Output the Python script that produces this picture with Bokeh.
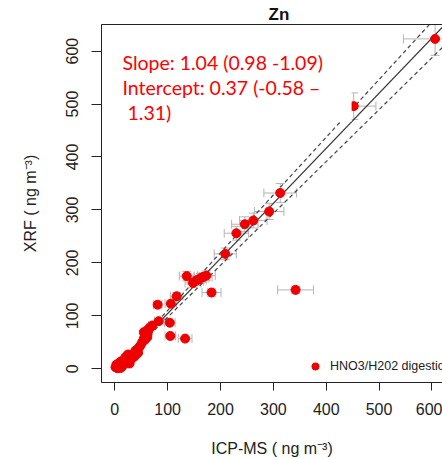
from bokeh.plotting import figure
from bokeh.models import (Range1d, FixedTicker, Whisker, TeeHead, ColumnDataSource,
                          Label, Legend, LegendItem, LinearAxis)
from bokeh.embed import file_html
from bokeh.resources import INLINE

# ICP-MS (x) vs XRF (y), ng m-3, with uncertainties
icp = [606, 452, 313, 292, 262, 246, 230, 209, 136, 148, 153, 157, 162, 167, 173,
       183, 342, 117, 81, 106, 83, 104, 105, 133,
       1.3, 7.6, 10.8, 17, 23.4, 20.2, 29.7, 32.9, 36, 39.2, 45.4, 48.6, 51.8, 54.9,
       58.1, 54.9, 61.3, 64.3, 67.5, 70.8, 61.3, 42.4, 26.5, 14, 3, 5, 9, 12, 28, 33,
       38, 44, 57, 62, 20, 25]
xrf = [623, 496, 332, 297, 280, 273, 256, 217, 175, 162, 166, 168, 171, 173, 176,
       144, 149, 137, 121, 123, 90, 87, 62, 57,
       3, 6.2, 1.5, 9.4, 12.5, 17, 18.9, 25.1, 28.3, 34.6, 39.7, 44, 50.2, 56.7,
       62.9, 69.1, 72.3, 75.5, 78.6, 81.8, 59.7, 31.4, 15.7, 4.3, 8, 1, 12, 14, 10, 20,
       24, 30, 55, 66, 22, 27]
icp_err = [60, 42, 31, 28, 26, 25, 23, 21, 14, 15, 15, 16, 16, 17, 17, 18, 34, 12, 8,
           11, 8, 10, 10, 13,
           0.5, 1, 1, 2, 2, 2, 3, 3, 4, 4, 5, 5, 5, 5, 6, 5, 6, 6, 7, 7,
           6, 4, 3, 1, 0.5, 0.5, 1, 1, 3, 3, 4, 4, 6, 6, 2, 3]
xrf_err = [31, 25, 18, 15, 14, 14, 13, 11, 9, 8, 8, 8, 9, 9, 9, 7, 7, 7, 6, 6, 5, 4,
           3, 3,
           0.5, 0.5, 0.5, 0.5, 1, 1, 1, 1, 1.5, 2, 2, 2, 2.5, 3, 3, 3.5, 3.5, 4, 4, 4,
           3, 1.5, 1, 0.5, 0.5, 0.5, 0.5, 1, 0.5, 1, 1, 1.5, 3, 3, 1, 1.5]

x_ticks = [0, 100, 200, 300, 400, 500, 600]
y_ticks = [0, 100, 200, 300, 400, 500, 600]

slope, intercept = 1.04, 0.37
slope_lo, intercept_lo = 0.98, -0.58
slope_hi, intercept_hi = 1.09, 1.31
fit_x = [0, 700]

series_label = "HNO3/H202 digestion"
title_text = "Zn"
stats_lines = ["Slope: 1.04 (0.98 -1.09)", "Intercept: 0.37 (-0.58 \u2013", "1.31)"]

AX_FONT = "Liberation Sans"
RED = "#ee0000"
GREY = "#b4b4b4"

p = figure(width=442, height=459, output_backend="svg", toolbar_location=None,
           x_range=Range1d(-25.2, 620.0), y_range=Range1d(-25.9, 650.2),
           min_border_left=101, min_border_right=0, min_border_top=24,
           min_border_bottom=77, title=title_text)
p.title.text_font = AX_FONT
p.title.text_font_size = "17px"
p.title.text_font_style = "bold"
p.title.text_color = "#111111"
p.title.align = "left"
p.title.offset = 167
p.title.standoff = 2
p.outline_line_color = None
p.grid.visible = False
p.background_fill_color = "white"
p.border_fill_color = "white"

for ax, ticks in ((p.xaxis[0], x_ticks), (p.yaxis[0], y_ticks)):
    ax.ticker = FixedTicker(ticks=ticks)
    ax.major_tick_in = 0
    ax.major_tick_out = 8
    ax.minor_tick_line_color = None
    ax.axis_line_color = "#222222"
    ax.major_tick_line_color = "#222222"
    ax.major_label_text_font = AX_FONT
    ax.major_label_text_font_size = "16px"
    ax.major_label_text_color = "#222222"
    ax.axis_label_text_font = AX_FONT
    ax.axis_label_text_font_size = "16px"
    ax.axis_label_text_font_style = "normal"
    ax.axis_label_text_color = "#222222"

p.xaxis[0].axis_label = "ICP-MS ( ng m\u207b\u00b3)"
p.xaxis[0].major_label_standoff = 12
p.xaxis[0].axis_label_standoff = 22
p.yaxis[0].axis_label = "XRF ( ng m\u207b\u00b3)"
p.yaxis[0].major_label_orientation = "vertical"
p.yaxis[0].major_tick_out = 10
p.yaxis[0].major_label_standoff = 13
p.yaxis[0].axis_label_standoff = 25

top_ax = LinearAxis(ticker=FixedTicker(ticks=[]), major_tick_out=0, major_tick_in=0,
                    minor_tick_line_color=None, major_label_text_font_size="0px",
                    axis_line_color="#222222", major_label_standoff=0)
p.add_layout(top_ax, "above")

src = ColumnDataSource(dict(
    x=icp, y=xrf,
    xl=[a - e for a, e in zip(icp, icp_err)], xu=[a + e for a, e in zip(icp, icp_err)],
    yl=[a - e for a, e in zip(xrf, xrf_err)], yu=[a + e for a, e in zip(xrf, xrf_err)],
))

p.add_layout(Whisker(source=src, base="y", lower="xl", upper="xu", dimension="width",
                     line_color=GREY, line_width=1,
                     lower_head=TeeHead(size=9, line_color=GREY, line_width=1),
                     upper_head=TeeHead(size=9, line_color=GREY, line_width=1)))
p.add_layout(Whisker(source=src, base="x", lower="yl", upper="yu", dimension="height",
                     line_color=GREY, line_width=1,
                     lower_head=TeeHead(size=9, line_color=GREY, line_width=1),
                     upper_head=TeeHead(size=9, line_color=GREY, line_width=1)))

p.line(fit_x, [slope * v + intercept for v in fit_x], line_color="#333333", line_width=1.2)
p.line(fit_x, [slope_hi * v + intercept_hi for v in fit_x], line_color="#444444",
       line_width=1.2, line_dash="4 3")
p.line(fit_x, [slope_lo * v + intercept_lo for v in fit_x], line_color="#444444",
       line_width=1.2, line_dash="4 3")

pts = p.scatter("x", "y", source=src, size=9, marker="circle", fill_color=RED,
                line_color=RED)

# white text box that covers the upper-left part of the plot
p.quad(left=[-23.5], right=[448], bottom=[467], top=[648.7], fill_color="white",
       line_color=None)

stat_pos = [(14.6, 579), (14.6, 530.7), (24, 484.6)]
for (sx, sy), t in zip(stat_pos, stats_lines):
    p.add_layout(Label(x=sx, y=sy, text=t, text_font="Lato", text_font_size="19.5px",
                       text_color="#ff0000", text_baseline="alphabetic"))

leg = Legend(items=[LegendItem(label=series_label, renderers=[pts])],
             location=(205, 7), border_line_color=None, background_fill_alpha=0,
             padding=0, margin=0, glyph_width=18, glyph_height=18, label_height=18,
             label_standoff=6, label_text_font=AX_FONT, label_text_font_size="12.5px",
             label_text_color="#222222")
p.add_layout(leg, "center")

open("out.html", "w").write(file_html(p, INLINE))
